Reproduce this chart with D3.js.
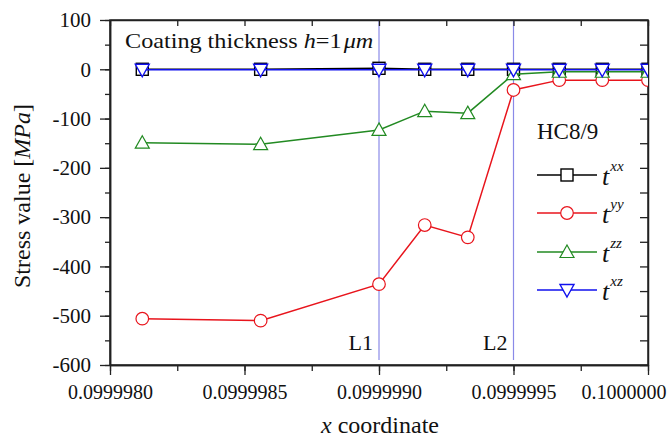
<!DOCTYPE html>
<html><head><meta charset="utf-8">
<script src="https://cdn.jsdelivr.net/npm/d3@7"></script>
<style>body{margin:0;background:#fff}svg text{font-family:'Liberation Serif','DejaVu Serif','Times New Roman',serif;fill:#111}</style>
</head><body>
<svg id="c" width="671" height="440"></svg>
<script>
const xs = [0.09999812, 0.09999856, 0.0999990, 0.09999917, 0.09999933, 0.0999995, 0.09999967, 0.09999983, 0.1000000];
const txx = [0, 0, 2, 0, 0, 0, 0, 0, 0];
const tyy = [-506, -510, -436, -316, -341, -42, -22, -22, -22];
const tzz = [-149, -152, -123, -85, -89, -10, -5, -5, -5];
const txz = [-1, -1, -1, -1, -1, -1, -1, -1, -1];
const xTicks = [0.0999980, 0.0999985, 0.0999990, 0.0999995, 0.1000000];
const xTickLabels = ["0.0999980", "0.0999985", "0.0999990", "0.0999995", "0.1000000"];
const yTicks = [100, 0, -100, -200, -300, -400, -500, -600];
const yTickLabels = ["100", "0", "-100", "-200", "-300", "-400", "-500", "-600"];
const vLines = [{x: 0.0999990, label: "L1"}, {x: 0.0999995, label: "L2"}];
const seriesNames = ["xx", "yy", "zz", "xz"];

const L = 110, R = 648, T = 20, B = 365;
const FONT = "'Liberation Serif','DejaVu Serif','Times New Roman',serif";
const svg = d3.select("#c");
const x = d3.scaleLinear().domain([0.0999980, 0.1000000]).range([L, R]);
const y = d3.scaleLinear().domain([-600, 100]).range([B, T]);

const series = [
  {name: "xx", vals: txx, color: "#000", shape: "square"},
  {name: "yy", vals: tyy, color: "#e8141c", shape: "circle"},
  {name: "zz", vals: tzz, color: "#228a22", shape: "up"},
  {name: "xz", vals: txz, color: "#1010ee", shape: "down"}
];

// vertical lines
vLines.forEach(v => {
  svg.append("line").attr("x1", x(v.x)).attr("x2", x(v.x)).attr("y1", T).attr("y2", 360)
    .attr("stroke", "#8a8ae8").attr("stroke-width", 1.2);
  svg.append("text").attr("x", x(v.x) - 6).attr("y", 350).attr("text-anchor", "end")
    .attr("font-size", 22).text(v.label);
});

// axes
const minorX = d3.range(0, 9).map(i => 0.0999980 + i * 0.00000025);
const minorY = d3.range(-600, 101, 50);
const axB = d3.axisBottom(x).tickValues(xTicks).tickFormat((d, i) => xTickLabels[i]).tickSize(10).tickSizeOuter(0);
const gB = svg.append("g").attr("transform", `translate(0,${B})`).call(axB);
svg.append("g").attr("transform", `translate(0,${B})`).call(d3.axisBottom(x).tickValues(minorX).tickFormat("").tickSize(6).tickSizeOuter(0));
const axLf = d3.axisLeft(y).tickValues(yTicks).tickFormat((d, i) => yTickLabels[i]).tickSize(10).tickPadding(9).tickSizeOuter(0);
const gL = svg.append("g").attr("transform", `translate(${L},0)`).call(axLf);
svg.append("g").attr("transform", `translate(${L},0)`).call(d3.axisLeft(y).tickValues(minorY).tickFormat("").tickSize(5).tickSizeOuter(0));
svg.append("g").attr("transform", `translate(0,${T})`).call(d3.axisTop(x).tickValues(minorX).tickFormat("").tickSize(-6).tickSizeOuter(0));
svg.append("g").attr("transform", `translate(${R},0)`).call(d3.axisRight(y).tickValues(minorY).tickFormat("").tickSize(-8).tickSizeOuter(0));
svg.selectAll("g").attr("font-family", FONT);
svg.selectAll(".domain").attr("stroke", "#222").attr("stroke-width", 1.5);
svg.selectAll(".tick line").attr("stroke", "#222").attr("stroke-width", 1.3);
gB.selectAll(".tick text").attr("font-size", 20).attr("fill", "#111").attr("dy", "1.05em");
gB.selectAll(".tick text").filter((d, i) => i === xTicks.length - 1).attr("text-anchor", "end").attr("x", 666 - R);
gL.selectAll(".tick text").attr("font-size", 21).attr("fill", "#111");

// frame
svg.append("rect").attr("x", L).attr("y", T).attr("width", R - L).attr("height", B - T)
  .attr("fill", "none").attr("stroke", "#222").attr("stroke-width", 1.5);

function marker(g, shape, cx, cy, color) {
  if (shape === "square") {
    g.append("rect").attr("x", cx - 6).attr("y", cy - 6).attr("width", 12).attr("height", 12)
      .attr("fill", "#fff").attr("stroke", color).attr("stroke-width", 1.4);
  } else if (shape === "circle") {
    g.append("circle").attr("cx", cx).attr("cy", cy).attr("r", 6.3)
      .attr("fill", "#fff").attr("stroke", color).attr("stroke-width", 1.2);
  } else if (shape === "up") {
    g.append("path").attr("d", `M${cx},${cy - 7}L${cx + 7},${cy + 5.5}L${cx - 7},${cy + 5.5}Z`)
      .attr("fill", "#fff").attr("stroke", color).attr("stroke-width", 1.2);
  } else {
    g.append("path").attr("d", `M${cx},${cy + 7}L${cx + 7},${cy - 5.5}L${cx - 7},${cy - 5.5}Z`)
      .attr("fill", "#fff").attr("stroke", color).attr("stroke-width", 1.4);
  }
}

const line = d3.line().x((d, i) => x(xs[i])).y(d => y(d));
svg.append("defs").append("clipPath").attr("id", "cp").append("rect")
  .attr("x", L).attr("y", T - 10).attr("width", R - L).attr("height", B - T + 20);
series.forEach(s => {
  const g = svg.append("g").attr("clip-path", "url(#cp)");
  g.append("path").attr("d", line(s.vals)).attr("fill", "none").attr("stroke", s.color).attr("stroke-width", 1.5);
  s.vals.forEach((v, i) => marker(g, s.shape, x(xs[i]), y(v), s.color));
});

// top text
const t1 = svg.append("text").attr("transform", "translate(125,48) scale(1.1,1)").attr("font-size", 22);
t1.append("tspan").text("Coating thickness ");
t1.append("tspan").attr("font-style", "italic").text("h");
t1.append("tspan").text("=1");
t1.append("tspan").attr("font-style", "italic").attr("dx", 2).text("μm");

// legend
svg.append("text").attr("x", 537).attr("y", 139).attr("font-size", 23).text("HC8/9");
const ly = [175, 213, 252, 290];
series.forEach((s, i) => {
  const g = svg.append("g");
  g.append("line").attr("x1", 537).attr("x2", 597).attr("y1", ly[i]).attr("y2", ly[i])
    .attr("stroke", s.color).attr("stroke-width", 1.5);
  marker(g, s.shape, 567, ly[i], s.color);
  const t = g.append("text").attr("x", 602).attr("y", ly[i] + 10).attr("font-size", 26).attr("font-style", "italic");
  t.append("tspan").text("t");
  t.append("tspan").attr("font-size", 15).attr("dy", -14).attr("dx", 1).text(seriesNames[i]);
});

// axis titles
const xt = svg.append("text").attr("x", 380).attr("y", 433).attr("text-anchor", "middle").attr("font-size", 24);
xt.append("tspan").attr("font-style", "italic").text("x");
xt.append("tspan").text(" coordinate");
const yt = svg.append("text").attr("transform", "translate(30,196) rotate(-90)").attr("text-anchor", "middle").attr("font-size", 24);
yt.append("tspan").text("Stress value [");
yt.append("tspan").attr("font-style", "italic").text("MPa");
yt.append("tspan").text("]");
</script>
</body></html>
